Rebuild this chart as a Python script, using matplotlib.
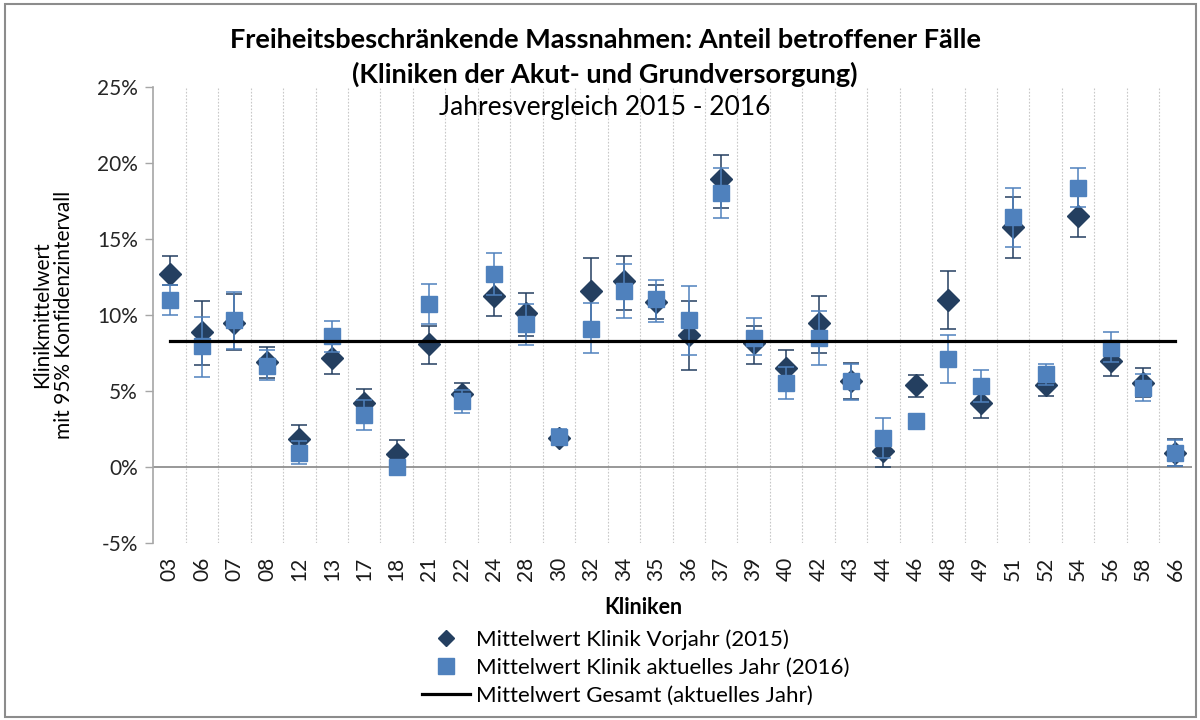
import matplotlib
matplotlib.use("Agg")
import matplotlib.pyplot as plt
from matplotlib.lines import Line2D
from matplotlib.patches import Rectangle
from matplotlib.ticker import FuncFormatter, MultipleLocator

plt.rcParams["font.family"] = ["Lato", "DejaVu Sans"]

# Kliniken (Kategorien der x-Achse)
kliniken = ["03", "06", "07", "08", "12", "13", "17", "18", "21", "22", "24",
            "28", "30", "32", "34", "35", "36", "37", "39", "40", "42", "43",
            "44", "46", "48", "49", "51", "52", "54", "56", "58", "66"]

# Vorjahr 2015: Mittelwert und 95%-Konfidenzintervall (in %)
mw_2015 = [12.7, 8.86, 9.5, 6.95, 1.83, 7.21, 4.24, 0.84, 8.09, 4.84, 11.28,
           10.14, 1.9, 11.57, 12.22, 10.88, 8.69, 18.98, 8.14, 6.55, 9.48, 5.67,
           1.06, 5.39, 11.02, 4.24, 15.79, 5.39, 16.49, 6.99, 5.56, 0.95]
ki_2015_unten = [12.0, 6.7, 7.7, 5.9, 0.9, 6.11, 3.3, 0.0, 6.8, 4.1, 9.96,
                 8.64, 1.5, 9.5, 10.34, 9.74, 6.4, 17.06, 6.77, 5.5, 7.54, 4.5,
                 0.0, 4.64, 9.12, 3.25, 13.74, 4.68, 15.13, 6.0, 4.6, 0.05]
ki_2015_oben = [13.9, 10.9, 11.4, 7.9, 2.77, 8.4, 5.17, 1.78, 9.3, 5.56, 12.6,
                11.43, 2.3, 13.74, 13.92, 11.98, 10.9, 20.51, 9.26, 7.72, 11.24, 6.84,
                2.1, 6.07, 12.88, 5.2, 17.77, 6.1, 17.9, 8.0, 6.55, 1.83]

# aktuelles Jahr 2016
mw_2016 = [11.0, 7.98, 9.67, 6.66, 0.95, 8.6, 3.43, 0.0, 10.73, 4.35, 12.7,
           9.41, 2.0, 9.12, 11.61, 11.06, 9.67, 18.03, 8.53, 5.56, 8.53, 5.67,
           1.93, 3.03, 7.1, 5.34, 16.45, 6.11, 18.38, 7.87, 5.23, 0.95]
ki_2016_unten = [10.0, 5.96, 7.8, 5.72, 0.22, 7.6, 2.48, 0.0, 9.4, 3.58, 11.3,
                 8.05, 1.6, 7.48, 9.81, 9.52, 7.39, 16.38, 7.4, 4.46, 6.73, 4.42,
                 0.6, 3.03, 5.56, 4.3, 14.51, 5.4, 17.1, 6.9, 4.35, 0.1]
ki_2016_oben = [12.0, 9.85, 11.5, 7.7, 1.7, 9.63, 4.4, 0.0, 12.05, 5.1, 14.1,
                10.73, 2.5, 10.8, 13.37, 12.33, 11.94, 19.68, 9.81, 6.6, 10.29, 6.8,
                3.25, 3.03, 8.71, 6.4, 18.36, 6.77, 19.68, 8.86, 6.1, 1.8]

mw_gesamt = 8.27

farbe_2015 = "#243F60"
farbe_2016 = "#4F81BD"

W, H = 1200, 720
fig = plt.figure(figsize=(12, 7.2), dpi=100)
fig.patches.append(Rectangle((5 / W, 3 / H), 1191 / W, 713 / H, transform=fig.transFigure,
                             fill=False, edgecolor="#8c8c8c", linewidth=1.5))

ax = fig.add_axes([153.3 / W, 1 - 543.3 / H, (1191.7 - 153.3) / W, (543.3 - 87) / H])

x = list(range(len(kliniken)))
err15 = [[m - u for m, u in zip(mw_2015, ki_2015_unten)],
         [o - m for m, o in zip(mw_2015, ki_2015_oben)]]
err16 = [[m - u for m, u in zip(mw_2016, ki_2016_unten)],
         [o - m for m, o in zip(mw_2016, ki_2016_oben)]]

ax.errorbar(x, mw_2015, yerr=err15, fmt="none", ecolor=farbe_2015, elinewidth=1.1,
            capsize=6, capthick=1.1, zorder=3)
ax.plot(x, mw_2015, "D", color=farbe_2015, markersize=11.5, linestyle="none", zorder=4)
ax.errorbar(x, mw_2016, yerr=err16, fmt="none", ecolor=farbe_2016, elinewidth=1.1,
            capsize=6, capthick=1.1, zorder=5)
ax.plot(x, mw_2016, "s", color=farbe_2016, markersize=12, linestyle="none", zorder=6)
ax.plot([x[0], x[-1]], [mw_gesamt, mw_gesamt], color="black", linewidth=2.3, zorder=7)

ax.axhline(0, color="#868686", linewidth=1.2, zorder=1)

ax.set_xlim(-0.5, len(kliniken) - 0.5)
ax.set_ylim(-5, 25)
ax.yaxis.set_major_locator(MultipleLocator(5))
ax.yaxis.set_major_formatter(FuncFormatter(lambda v, p: f"{v:.0f}%"))

ax.set_xticks(x)
ax.set_xticklabels(kliniken, rotation=90, fontsize=15, color="#1a1a1a")
ax.tick_params(axis="x", length=0, pad=10)
ax.tick_params(axis="y", labelsize=15, length=6, width=1, color="#a6a6a6",
               labelcolor="#262626", pad=5)

# vertikale Trennlinien zwischen den Kliniken
for g in range(len(kliniken)):
    ax.axvline(g + 0.5, color="#c8c8c8", linewidth=0.8, linestyle=(0, (1.5, 1.5)), zorder=0)

for s in ["top", "right", "bottom"]:
    ax.spines[s].set_visible(False)
ax.spines["left"].set_color("#a6a6a6")
ax.spines["left"].set_linewidth(1.2)

fig.text(605 / W, 1 - 40 / H, "Freiheitsbeschränkende Massnahmen: Anteil betroffener Fälle",
         ha="center", va="center", fontsize=19.5, fontweight="bold")
fig.text(605 / W, 1 - 74 / H, "(Kliniken der Akut- und Grundversorgung)",
         ha="center", va="center", fontsize=19.5, fontweight="bold")
fig.text(605 / W, 1 - 108 / H, "Jahresvergleich 2015 - 2016",
         ha="center", va="center", fontsize=19)

fig.text(53 / W, 1 - 315 / H, "Klinikmittelwert\nmit 95% Konfidenzintervall",
         ha="center", va="center", rotation=90, fontsize=15, linespacing=1.15)
fig.text(643 / W, 1 - 608 / H, "Kliniken", ha="center", va="center",
         fontsize=15.5, fontweight="bold")

handles = [Line2D([], [], marker="D", color=farbe_2015, linestyle="none", markersize=8),
           Line2D([], [], marker="s", color=farbe_2016, linestyle="none", markersize=11),
           Line2D([], [], color="black", linewidth=2.3)]
labels = ["Mittelwert Klinik Vorjahr (2015)",
          "Mittelwert Klinik aktuelles Jahr (2016)",
          "Mittelwert Gesamt (aktuelles Jahr)"]
fig.legend(handles, labels, loc="upper left", bbox_to_anchor=(422 / W, 1 - 629 / H),
           frameon=False, fontsize=16, handlelength=2.15, handletextpad=0.27,
           labelspacing=0.36, borderaxespad=0, borderpad=0)

fig.savefig("out.png", dpi=100)
